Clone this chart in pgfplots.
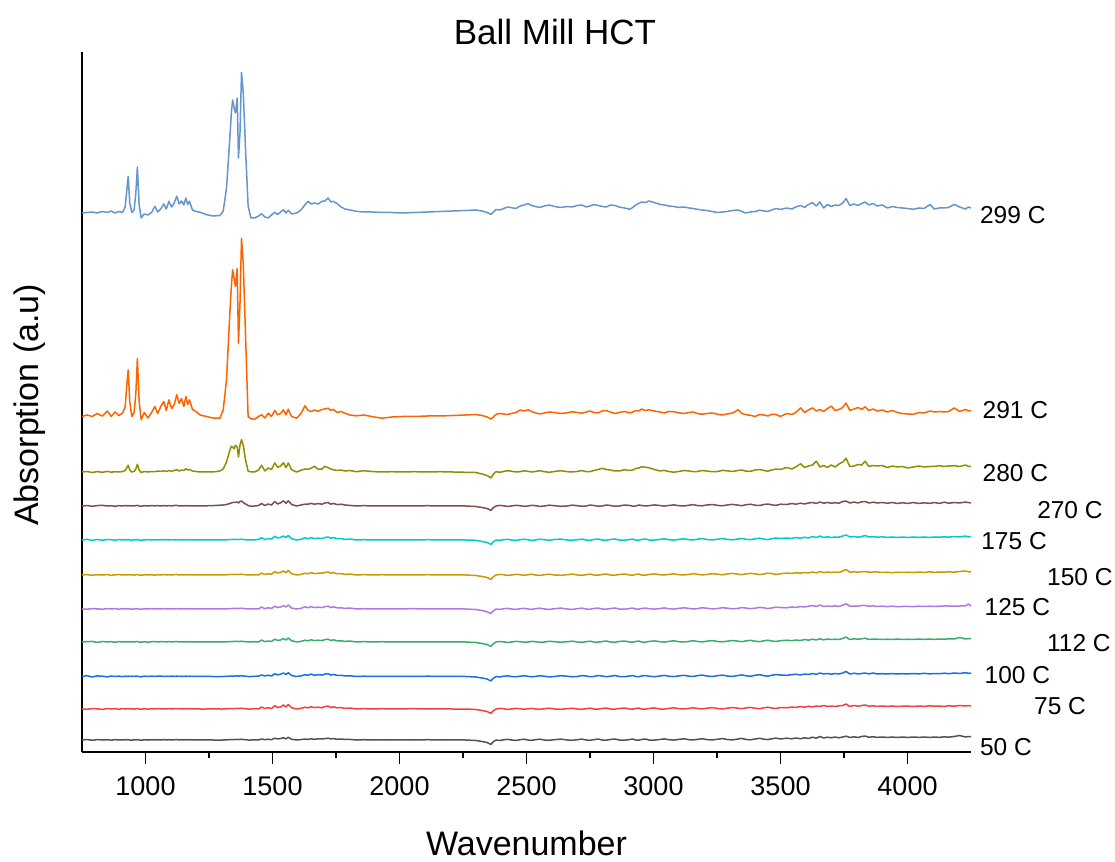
\documentclass[border=0pt]{standalone}
\usepackage{pgfplots}
\pgfplotsset{compat=1.18}
\usepackage{pgfplotstable}
\usepackage{fontspec}
\setmainfont{Liberation Sans}
\definecolor{c50}{HTML}{515151}
\definecolor{c75}{HTML}{F14040}
\definecolor{c100}{HTML}{1A6FDF}
\definecolor{c112}{HTML}{37AD6B}
\definecolor{c125}{HTML}{B177DE}
\definecolor{c150}{HTML}{CC9900}
\definecolor{c175}{HTML}{00CBCC}
\definecolor{c270}{HTML}{7D4E4E}
\definecolor{c280}{HTML}{8E8E00}
\definecolor{c291}{HTML}{FB6501}
\definecolor{c299}{HTML}{6495CF}
% deviations (in axis units) of each spectrum from its own baseline
% a=50C b=75C c=100C d=112C e=125C f=150C g=175C h=270C i=280C j=291C k=299C
\pgfplotstableread{
x a b c d e f g h i j k
750 0 0 0 0 0 0 0 0 0 0 0
770 0.5 -0.3 0.8 0.3 -0.2 0.4 0.6 0.5 0.5 1.5 0.5
790 -0.3 0.4 -0.5 0.6 0.4 -0.3 -0.4 -0.3 -0.5 0 1
810 0.4 0.2 0.6 -0.4 0.2 0.3 0.5 0.4 0.4 3 0
830 0 -0.4 0.3 0.5 -0.3 0 -0.2 0.7 -0.3 0.5 1.5
850 0.3 0.5 -0.4 0 0.5 0.5 0.4 0 0.6 5.5 0.5
865 -0.2 0 0.5 0.4 0 -0.4 0.3 0.3 -0.2 0 2
880 0.4 0.3 0 -0.3 0.4 0.2 -0.3 -0.3 0.3 4.5 0
895 0 -0.3 0.4 0.4 -0.2 0.4 0.4 0.4 0 1 1.5
910 0.2 0.4 -0.2 0 0.3 0 0 0 0.5 3.5 0.5
920 0 0 0.3 0.3 0 0.3 0.3 0.5 1.5 10 6
926 0.2 0.2 0 0 0.2 0 0 0 4 30 22
932 0.4 0.3 0.4 0.3 0.4 0.4 0.5 0.5 6.7 46.7 36.7
938 0 0 0 0 0 0 0 0 2 15 10
946 -0.2 0.2 0.3 0.2 -0.2 0.2 -0.2 0.3 0 0 0.5
955 0.3 -0.2 0 0 0.3 -0.2 0.3 0 0.5 4 3
962 0 0.3 0.4 0.3 0 0.3 0 0.4 3 23 20
968 0.4 0.4 0.2 0.4 0.4 0.4 0.5 0.6 7.7 58 46
975 0 0 0 0 0 0 0 0 2 15 8
983 -0.3 -0.3 -0.3 -0.2 -0.3 -0.3 -0.3 -0.3 -0.5 -3.3 -5
995 0.2 0.3 0.3 0.3 0.2 0.3 0.2 0.3 0.5 4 -1
1010 0 -0.2 0 -0.2 0 0 0.3 0 0 -1.5 -2
1025 0.3 0.3 0.4 0.3 0.4 0.3 0 0.4 0.5 4.5 1
1037 0 0 0 0.4 0 -0.2 0.3 0 0.3 10 6.7
1048 0.3 0.4 0.3 0 0.3 0.3 0 0.5 1 3 1
1060 0 0 0.5 0.3 0 0 0.4 0 0.5 10 4
1072 0.4 0.3 0 0.5 0.4 0.4 0 0.4 1.2 15 9
1082 0 0 0.3 0 0.2 0 0.3 0 0.5 6 4
1092 0.3 0.4 0 0.4 0 0.3 0 0.4 1.5 16.7 11.7
1103 0 0 0.4 0 0.3 0 0.4 0 0.8 8 6
1113 0.2 0.3 0 0.3 0 0.4 0 0.5 1.5 12 10
1123 0.5 0.5 0.4 0.5 0.4 0.5 0.4 0.6 2.3 21.7 16.7
1133 0 0 0 0 0 0 0 0 1 13 9
1142 0.3 0.3 0.3 0.3 0.3 0.3 0.3 0.3 2 18 12
1151 0 0 0 0 0 0 0 0 1.5 10 8
1159 0.4 0.4 0.4 0.4 0.4 0.4 0.4 0.5 3.3 20 15
1166 0 0 0 0 0 0 0 0 2 12 8.5
1173 0.3 0.3 0.3 0.3 0.3 0.3 0.3 0.3 2.5 16.7 11.7
1185 0 0 0 0 0 0 0 0 1 7 3
1199 0.2 0.2 0.2 0.2 0.2 0.2 0.2 0.2 0.5 5 1.5
1215 0 0 0 0 0 0 0 0 0 1.5 0.7
1240 0.2 0 0.2 0 0.2 0 0.2 0.2 0 0 -1.7
1265 0 0.2 0 0.2 0 0.2 0 0.4 0 -1.5 -3
1293 0 0 0 0 0 0 0 0.8 1 -1.7 -2.5
1306 0 0 0 0 0 0 0 1 3 6.7 2
1319 0.2 0.2 0.2 0.2 0.2 0.2 0.2 1.5 10 36.7 25
1332 0.3 0.4 0.3 0.4 0.3 0.5 0.4 2.5 21.7 103 75
1338 0.4 0.4 0.4 0.4 0.4 0.5 0.5 3 25.7 130 100
1343 0.5 0.5 0.5 0.5 0.5 0.6 0.5 3.5 25 146.7 113
1349 0.5 0.5 0.5 0.5 0.5 0.5 0.5 3.5 23.3 138 105
1354 0.5 0.5 0.5 0.5 0.5 0.5 0.5 3.5 26.7 130 100
1361 0.6 0.6 0.6 0.6 0.6 0.6 0.6 4 25 148 115
1366 0.4 0.4 0.4 0.4 0.4 0.4 0.4 3 15 73 55
1372 0.6 0.6 0.6 0.6 0.6 0.6 0.6 4.5 26.7 113 80
1378 0.8 0.8 0.8 0.8 0.8 0.8 0.8 5 32.3 178 140.7
1385 0.5 0.5 0.5 0.5 0.5 0.5 0.5 3.5 26.7 153 120
1394 0.3 0.3 0.3 0.3 0.3 0.3 0.3 2 11.7 80 63
1404 0 0 0 0 0 0 0 0.5 1 0 7
1415 0 0 0 0 0 0 0 -0.3 0 -2.3 -5
1430 0.2 0.3 0.2 0.3 0.2 0.3 0.2 0 0 -2.7 -5
1445 0 0 0.4 0 0 0 0.5 0.5 2 0 -3
1457 1 2 1.5 2 2 2 2.3 2.5 6.7 1.7 -0.7
1470 0.3 0.5 0.5 0.3 0.3 0.5 0.5 0.5 1 -1.5 -4
1483 0.8 1.3 1.3 1 1.3 1.3 1.5 2 4 3.3 -5
1496 0.3 0.5 0.5 0.5 0.5 0.8 1 1 2.5 0 -2
1509 1.8 3.3 2.8 2.8 2.8 3.3 3.8 4.5 9 6 0.7
1520 1 1.6 1.6 1.6 1.6 2 2 2 4.7 1.7 -1.5
1532 1.5 2 2.3 2 2 2.6 2.6 3.2 6 3 1
1543 2.3 4 3.5 3.5 3.5 4 4 5.2 9.3 6.7 3.3
1553 1 2 2 2 2 2.3 2.6 2.6 4.3 1.7 0
1562 2.8 4.5 3.8 4 4 4.5 4.5 5.2 9 7.3 2.7
1575 0.7 1.3 1 1.3 1 1.3 1.3 1.5 2.3 0 -1
1595 0 0 0 0 0 0 0 0 0 -1.7 0
1612 0.4 0.6 0.6 0.6 0.6 0.6 0.6 1 1.7 3 3
1628 1 1.8 1.8 1.8 2.2 1.8 2.2 1.8 3 10.7 8.3
1640 0.6 1.2 1.2 1.2 1.2 1.2 1.2 1.8 2.7 6 11.7
1652 1.2 2.2 2.4 2.2 2.4 2.4 2.4 2.6 3.7 5 9
1665 0.7 1.4 1.2 1.4 1.4 1.4 1.4 1.8 5.7 6.5 10
1680 1.2 1.8 1.8 1.8 1.8 1.8 1.8 2.4 2.7 5.3 9
1695 1 1.2 1.4 1.4 1.4 1.8 1.4 1.8 3 7 11.7
1706 1.4 2.4 2.4 2.4 2.4 2.4 2.4 3 5.7 7.5 12
1719 1.8 3 2.8 2.8 2.8 3 3 3.4 4.3 8.3 15
1730 1 1.4 1.4 1.4 1.4 1.8 1.8 1.8 3 6 11
1739 1.4 2.2 2.2 2.2 2.2 2.4 2.4 2.6 2.3 7.3 11.7
1755 0.7 1.2 1 1.2 1.2 1.2 1.2 1.4 1.5 4 9.3
1770 1 1.4 1.2 1.2 1.2 1.4 1.4 1.8 2 5 6
1785 0.5 0.6 0.6 0.6 0.6 0.6 0.6 1 1 3.3 4
1805 0.6 1 0.7 1 1 1 1 0.6 1.5 1.5 3
1830 0 0 0 0 0 0 0 0 0.3 0.7 1.7
1860 0.3 0.4 0.3 0.4 0.3 0.4 0.3 0.4 1.3 1.5 1
1890 0 0 0 0 0 0 0 0 0.5 0 1
1930 0.2 0.3 0.2 0.3 0.2 0.3 0.2 0.2 0 -1.7 0.5
1970 0 0 0 0 0 0 0 0 0.3 -0.5 0.5
2010 0.2 0.2 0.2 0.2 0.2 0.2 0.2 0.2 0 0 0
2060 0 0.3 0 0 0.3 0 0 0 0.3 0 0.5
2110 0.3 0 0.3 0.2 0 0.3 0.3 0.3 0 0.5 1
2160 0 0.2 0 0 0.2 0 0 0 0.3 0.5 1.5
2210 0.2 0 0.2 0.2 0 0.2 0.2 0.2 0 1 2
2260 0 0 0 0 0 0 0 0 -0.3 1.5 2.5
2300 -0.5 -0.5 -0.5 -0.5 -0.5 -0.5 -0.3 -0.5 -0.5 2 3
2325 -1.5 -1.5 -1.5 -1.5 -1.5 -1.5 -1.5 -1.5 -2 1 2
2345 -2.5 -2.5 -2.5 -2.5 -2.8 -2.5 -2.5 -2.5 -3.5 -0.5 0.5
2360 -4.5 -4.5 -4.5 -4.5 -4.5 -4.5 -4.5 -4.5 -6 -2.6 -1.5
2368 -2 -2 -2 -2 -2 -2 -2 -2 -2.5 -1 0.5
2380 0 0 0 0 0 0 0 0 0.3 2.2 3.5
2395 -0.5 0.6 -0.4 0.5 -0.5 0.6 -0.3 0.6 -0.3 3 3
2410 0.2 0.3 0.3 0.2 0.3 0.3 0.3 0.2 0.5 2.5 4.5
2425 0.7 -0.4 0.6 -0.5 0.6 -0.4 0.7 -0.4 1.3 2 6
2441 0 0 0 0 0 0 0 0 0.8 3 5.3
2458 -0.4 0.6 -0.3 0.6 -0.4 0.7 -0.4 0.7 0 4 4.5
2475 0.3 0.3 0.3 0.3 0.3 0.3 0.3 0.3 0.3 6.5 7
2490 0.8 -0.3 0.8 -0.2 0.7 -0.3 0.8 -0.3 1.2 5.5 8
2506 0 0.2 0.2 0 0 0.2 0.2 0 0.7 6.7 9.4
2520 -0.4 0.7 -0.3 0.6 -0.4 0.8 -0.4 0.7 0 5 7.5
2535 0.3 0 0 0.3 0.3 0 0 0.3 0.5 3.7 6.5
2552 0.8 -0.3 0.8 -0.3 0.8 -0.4 0.8 -0.4 1.3 2.5 5.5
2570 0 0.3 0.3 0 0 0.3 0.3 0 0.3 3.5 7
2590 -0.3 0.8 -0.4 0.7 -0.4 0.8 -0.3 0.8 -0.3 4.5 8
2610 0.3 0 0 0.3 0.3 0 0.5 0.3 0.5 4 6.5
2635 0.9 -0.3 0.8 -0.2 0.9 -0.3 0.9 -0.3 1.3 3 5.5
2660 0 0.3 0.3 0.3 0 0.3 0 0 0.3 3.7 6.5
2680 -0.3 0.8 -0.3 0.8 -0.4 0.9 -0.3 0.9 0 4.8 6
2700 0.3 0 0 0 0.3 0 0.3 0.3 0.6 4 7.5
2718 0.9 -0.3 0.9 -0.3 0.9 -0.3 0.9 -0.3 1.4 3.3 8
2735 0 0.3 0.5 0.3 0 0.3 0 0 0.4 4.5 6
2750 -0.3 0.9 -0.2 0.8 -0.3 0.9 -0.3 0.9 0.3 5.5 7
2765 0.3 0 0 0 0.5 0 0.5 0.5 1.5 4 8.5
2782 1 -0.2 1 -0.2 1 -0.2 1 -0.2 2.5 3.5 7.5
2798 0 0.5 0.5 0.5 0 0.5 0 0 3.7 5.6 6.5
2814 -0.2 1 -0.2 1 -0.2 1 -0.3 1 2.5 6 6
2830 0.5 0 0.3 0 0.5 0 0.5 0.5 2 4.5 8
2848 1 -0.2 1 -0.2 1 -0.2 1 -0.2 1 3 7.5
2865 0 0.5 0 0.5 0 0.5 0 0 1 4 6
2886 -0.2 1 -0.2 1 -0.2 1 -0.2 1 2.2 5 5
2907 0.5 0 0.5 0 0.5 0 0.5 0.5 1.5 3.5 3.7
2918 1 -0.2 1 -0.2 1 -0.2 1 -0.2 2 4.5 5.5
2930 0 0.5 0 0.5 0 0.5 0 0 3.5 6 8
2942 -0.2 1 -0.2 1 -0.2 1 -0.2 1 4 5.5 9.5
2953 0.5 0 0.5 0 0.5 0 0.5 0.5 5.2 7.4 11
2968 1 -0.1 1 -0.1 1 -0.1 1 0 4.8 6 10.5
2982 0 0.5 0.3 0.5 0.3 0.5 0 0.3 4.2 6.7 12
3003 -0.1 1.1 -0.2 1.1 -0.1 1.1 -0.1 1.1 2.5 5.5 10.5
3025 0.5 0 0.5 0.3 0.5 0.3 0.6 0.5 1 4.5 8.6
3042 1.1 -0.1 1.1 -0.1 1.1 0 1.2 -0.1 1.6 3.5 8
3060 0.3 0.6 0.3 0.6 0.3 0.6 0.3 0.5 0.5 5 7
3080 -0.1 1.2 -0.1 1.2 -0.1 1.2 -0.1 1.1 -0.2 4.8 6.5
3099 0.6 0.3 0.6 0.3 0.6 0.3 0.6 0.3 0.5 3.7 5.6
3120 1.2 0 1.2 0 1.2 0 1.2 0 1.5 3 6
3140 0.3 0.6 0.3 0.6 0.6 0.6 0.3 0.8 1 4 5
3156 0 1.3 0 1.3 0 1.3 0 1.4 0.3 4.5 4.5
3172 0.6 0.6 0.8 0.6 0.3 0.8 0.8 0.5 0.5 3 3.7
3191 1.3 0.1 1.4 0.1 1.3 0.1 1.4 0.2 1.5 2.2 3
3210 0.4 0.8 0.5 0.8 0.8 0.5 0.5 1 1 3 2.5
3231 0 1.4 0 1.4 0.1 1.3 0.1 1.5 0.3 3.5 1.5
3253 0.8 0.5 0.8 0.5 0.5 0.8 0.8 0.6 0.5 2.2 0.5
3271 1.4 0.1 1.4 0.2 1.3 0.2 1.4 0.2 1.6 1.5 1
3290 0.5 0.8 0.5 0.8 0.8 1 0.6 1 1.2 2.5 1.5
3311 0.1 1.5 0.1 1.5 0.2 1.6 0.2 1.6 0.5 3.5 2.5
3333 1 0.8 1 0.8 0.6 0.8 1 0.8 1.5 6.7 3
3348 1.6 0.3 1.6 0.3 1.5 0.3 1.5 0.3 2 3 1.5
3362 0.6 1 0.8 1 1 1 0.8 1.2 1 2 0
3381 0.2 1.6 0.2 1.7 0.3 1.6 0.3 1.8 0.6 1.2 1
3400 1 0.8 1.2 0.8 0.8 1.2 1.2 0.8 2 0 1.5
3418 1.7 0.3 1.8 0.3 1.6 0.4 1.8 0.5 2.5 2 2.8
3435 0.8 1.2 0.8 1.2 1.2 1 0.8 1.5 1.5 1.5 2
3450 0.4 1.8 0.3 1.8 0.4 1.8 0.3 2 0.8 0.5 1.5
3465 1.2 1 1.2 1 1 1.5 1.3 1.2 2 2.2 3
3482 1.9 0.5 1.9 0.5 1.8 0.6 2 0.6 3 2 4.5
3500 1 1.5 1.5 1.3 1.5 1.2 1.5 1.8 2.5 0 3.5
3524 1.8 1.2 1.2 1.8 1.2 2 2 1.5 4.5 3 5
3545 1.2 2 1.8 1.3 2 1.5 1.5 2.5 3 2 4
3560 2 1.5 2.3 2 1.5 2.3 2.5 1.8 5 4 6
3579 1.3 2.5 1.5 1.5 2.5 1.8 1.8 2.8 8.2 8.6 7.5
3595 2.2 1.8 2.5 2.5 2 2.5 2.8 2 4.5 4 5.5
3610 1.5 2.8 2 1.8 2.8 2 2 3 6 6.5 8.5
3626 2.8 2 3 2.8 3.5 3 3.5 3.5 7 8.6 10.4
3641 1.8 3 2.2 2 2.5 2.2 2.5 2.5 10.8 5.5 7
3655 3.5 2.5 3.5 3.2 4 3.5 4 4 5 7 11
3670 2 3.5 2.5 2.2 2.5 2.5 2.5 2.8 6.5 5 5
3685 2.8 2.5 3 3 3 3 3.2 3.5 4.5 8 8.5
3700 2.2 3 2.3 2.5 2.5 2.5 2.5 2.8 7 10.4 6.5
3715 3 2.5 3 2.8 3.2 3 3 3.3 5 6 8
3730 2.2 3.2 2.5 2.5 2.5 2.5 2.8 2.8 8 7 7.5
3745 3 3.5 3.5 3.5 3.8 4 4 4.5 10 9 10
3758 3.8 5 5 5 5.2 5.5 5 5 13.8 13.4 14.5
3773 2.5 2.5 2.5 2.5 2.8 2.8 3 3 5.5 6 7.5
3790 3.2 3.5 3.3 3.2 3 3.3 3.5 4 6 7.5 9
3805 2.5 2.8 2.5 2.8 2.8 2.8 2.8 3 7.5 9 7.5
3820 3.5 3.5 3 3.2 3.5 3.3 3.5 4.2 7 7 9.5
3833 4 4 3.5 3.8 3.5 3.5 4.5 4.5 10.8 9.7 11
3848 2.8 2.8 2.6 2.5 2.8 2.8 3 3 5.5 6 8
3865 3.2 3.2 3.5 3 3.2 3 3.3 3.8 6.5 7.5 9.5
3880 2.6 2.6 2.5 2.8 2.5 3 2.8 3 6 5.5 7
3900 3 3 2.8 2.5 2.8 2.5 3.2 3.5 6.5 6.5 8
3921 2.5 2.6 2.5 2.8 2.4 2.8 2.6 2.8 4.5 4.5 5
3940 3 3 3 2.5 2.8 2.3 3 3.5 6 6 6.5
3960 2.5 2.5 2.5 3 2.3 2.8 2.5 2.5 5 4 5.5
3980 3 2.8 2.8 2.5 2.5 2.5 3 3.3 5.5 3 5
4000 2.5 3 2.5 2.8 2.6 2.8 2.5 2.5 4 2.5 4.5
4023 3 2.5 3 2.5 2.4 2.5 3 3.5 5 2.2 3.7
4045 2.6 3 2.6 3 2.8 3 2.6 2.5 6 4 5
4065 3 2.6 3.2 2.6 2.6 2.6 3 3.2 5 3.5 4.5
4089 2.5 3.2 2.6 3 2.8 3.2 2.5 2.6 5.5 5.5 8.5
4105 3 2.8 3 2.6 2.6 2.6 3 3.5 5.5 4.5 4
4125 2.6 3 2.8 3 2.8 3 2.8 2.6 6.3 5 5
4145 3.2 2.6 3.3 2.8 3 2.8 3.2 3.8 5.5 4.5 5
4162 2.8 3.2 2.8 3.2 3 3.3 2.8 2.8 6 5 5.5
4184 3.5 2.8 3.5 3 2.8 2.8 3.5 3.5 6.3 8.6 8.6
4205 4.5 3.5 3 4.5 3 3.5 3 3 5.5 5 6
4228 3 3 3.8 3 3.2 4 4 4 7 7 4
4240 3.5 3.5 3.2 3.5 5 3.2 3.2 3.3 5.6 5.5 6
4250 3.2 3 3.3 3.2 3 3.2 3.5 3.2 5.6 5.5 5
}\spectra
\begin{document}
\begin{tikzpicture}
\path[use as bounding box] (-82pt,-109pt) rectangle (1033pt,752pt);
\begin{axis}[
  at={(0pt,0pt)}, anchor=south west,
  scale only axis, width=889pt, height=700pt,
  xmin=750, xmax=4250, ymin=0, ymax=700,
  axis x line*=bottom, axis y line*=left,
  axis line style={line width=2pt, black},
  xtick={1000,1500,...,4000}, minor x tick num=1,
  ytick=\empty,
  tick align=outside,
  major tick length=12pt, minor tick length=6pt,
  tick style={line width=1.8pt, black},
  /pgf/number format/assume math mode=true,
  /pgf/number format/1000 sep={},
  xticklabel style={font=\fontsize{27}{27}\selectfont, yshift=-9pt},
  clip=false,
  every axis plot/.append style={line width=1.5pt, line join=round, mark=none},
]
\addplot[c50]  table[x=x, y expr=\thisrow{a}+12]    {\spectra};
\addplot[c75]  table[x=x, y expr=\thisrow{b}+43]    {\spectra};
\addplot[c100] table[x=x, y expr=\thisrow{c}+75.5]  {\spectra};
\addplot[c112] table[x=x, y expr=\thisrow{d}+110]   {\spectra};
\addplot[c125] table[x=x, y expr=\thisrow{e}+143]   {\spectra};
\addplot[c150] table[x=x, y expr=\thisrow{f}+177]   {\spectra};
\addplot[c175] table[x=x, y expr=\thisrow{g}+212]   {\spectra};
\addplot[c270] table[x=x, y expr=\thisrow{h}+246]   {\spectra};
\addplot[c280] table[x=x, y expr=\thisrow{i}+280]   {\spectra};
\addplot[c291] table[x=x, y expr=\thisrow{j}+335.5] {\spectra};
\addplot[c299] table[x=x, y expr=\thisrow{k}+539]   {\spectra};

\begin{scope}[every node/.style={anchor=west, inner sep=0pt, font=\fontsize{24.5}{24.5}\selectfont}]
\node at (axis cs:4285,537) {299 C};
\node at (axis cs:4295,342) {291 C};
\node at (axis cs:4295,279) {280 C};
\node at (axis cs:4510,242) {270 C};
\node at (axis cs:4290,210.5) {175 C};
\node at (axis cs:4549,175) {150 C};
\node at (axis cs:4303,145) {125 C};
\node at (axis cs:4549,109) {112 C};
\node at (axis cs:4303,77) {100 C};
\node at (axis cs:4498,46) {75 C};
\node at (axis cs:4285,5) {50 C};
\end{scope}

\node[font=\fontsize{35}{35}\selectfont] at (rel axis cs:0.532,1) [yshift=20pt] {Ball Mill HCT};
\node[font=\fontsize{34}{34}\selectfont] at (rel axis cs:0.5,0) [yshift=-91pt] {Wavenumber};
\node[font=\fontsize{34}{34}\selectfont, xshift=-52pt, rotate=90] at (rel axis cs:0,0.496) {Absorption (a.u)};
\end{axis}
\end{tikzpicture}
\end{document}
